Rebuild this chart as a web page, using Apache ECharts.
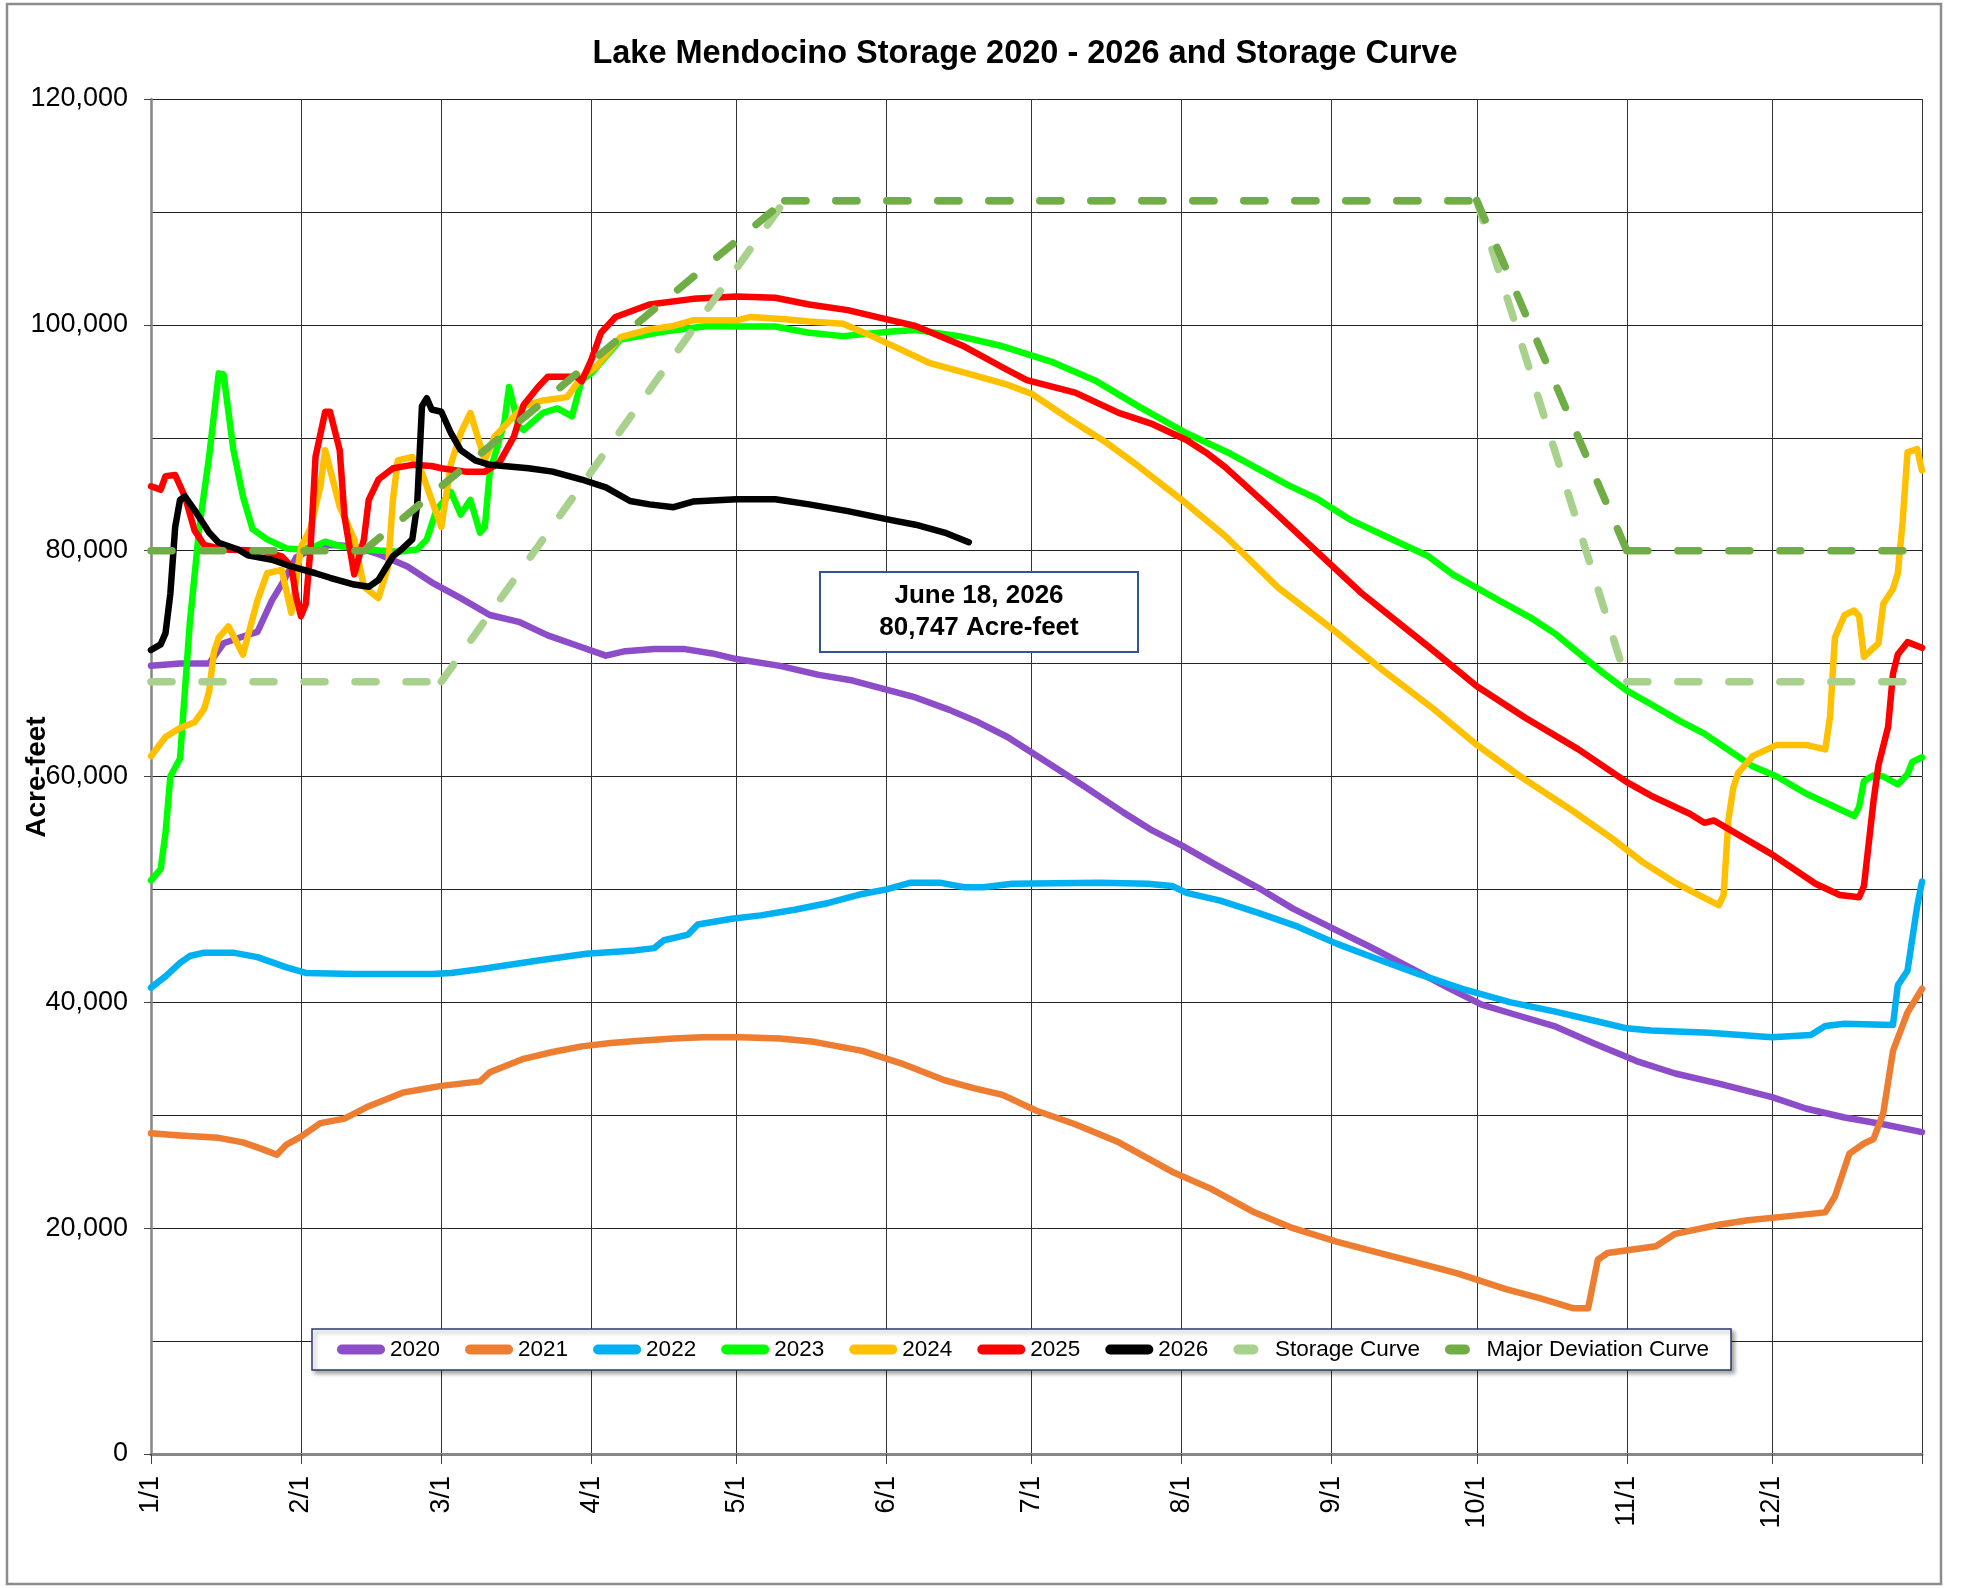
<!DOCTYPE html>
<html>
<head>
<meta charset="utf-8">
<title>Lake Mendocino Storage</title>
<script src="https://cdn.jsdelivr.net/npm/echarts@6/dist/echarts.min.js"></script>
<style>
  html, body { margin: 0; padding: 0; background: #fff; }
  #chart { width: 1961px; height: 1588px; }
</style>
</head>
<body>
<div id="chart"></div>
<script>
// x axis runs over a leap year, one category per day
const monthDays = [31, 29, 31, 30, 31, 30, 31, 31, 30, 31, 30, 31];
const monthLabels = ['1/1', '2/1', '3/1', '4/1', '5/1', '6/1', '7/1', '8/1', '9/1', '10/1', '11/1', '12/1'];
const yMax = 120000;
const yStep = 20000;

// [day of year, acre-feet]
const s2020 = [[0,69800],[6,70000],[12,70000],[15,71800],[19,72400],[22,72800],[25,75600],[27,77000],[30,79400],[33,80100],[37,80500],[42,80400],[47,79700],[53,78600],[58,77200],[64,75800],[70,74300],[76,73700],[82,72500],[88,71600],[94,70700],[98,71100],[104,71300],[110,71300],[116,70900],[121,70400],[130,69800],[138,69000],[145,68500],[151,67800],[158,67000],[165,65900],[171,64800],[177,63500],[185,61300],[193,59100],[201,56800],[207,55200],[213,53900],[220,52200],[229,50100],[236,48300],[244,46600],[252,44900],[261,42900],[268,41300],[275,39800],[282,38900],[290,37900],[298,36400],[307,34800],[315,33700],[324,32800],[335,31600],[342,30600],[350,29800],[358,29200],[366,28500]];

const s2021 = [[0,28400],[6,28200],[14,28000],[19,27600],[23,27000],[26,26500],[28,27400],[31,28100],[35,29300],[40,29700],[45,30800],[52,32000],[56,32300],[60,32600],[68,33000],[70,33800],[77,35000],[83,35600],[89,36100],[95,36400],[101,36600],[108,36800],[114,36900],[122,36900],[130,36800],[137,36500],[147,35700],[155,34600],[164,33100],[170,32400],[176,31800],[183,30400],[191,29200],[200,27600],[211,25000],[219,23500],[228,21400],[236,20000],[245,18800],[253,17900],[262,16900],[270,16000],[280,14600],[287,13800],[294,12900],[297,12900],[299,17200],[301,17800],[311,18400],[315,19500],[324,20300],[330,20700],[337,21000],[346,21400],[348,22800],[351,26600],[354,27500],[356,27900],[358,30200],[360,35700],[363,39100],[366,41200]];

const s2022 = [[0,41300],[3,42300],[6,43500],[8,44100],[11,44400],[17,44400],[22,44000],[28,43100],[32,42600],[42,42500],[58,42500],[62,42600],[69,43000],[80,43700],[90,44300],[100,44600],[104,44800],[106,45500],[111,46000],[113,46900],[120,47400],[126,47700],[133,48200],[140,48800],[147,49600],[152,50000],[157,50600],[163,50600],[168,50200],[172,50200],[178,50500],[196,50600],[206,50500],[211,50300],[214,49700],[221,49000],[229,47900],[237,46700],[245,45200],[253,43900],[262,42500],[271,41200],[281,40000],[290,39200],[299,38300],[305,37700],[310,37500],[322,37300],[335,36900],[343,37100],[346,37900],[350,38100],[360,38000],[361,41500],[363,42800],[365,48500],[366,50700]];

const s2023 = [[0,50800],[2,51800],[3,55000],[4,60000],[6,61600],[8,73500],[10,82100],[12,88300],[14,95700],[15,95600],[17,89000],[19,84800],[21,81900],[24,81000],[28,80200],[31,80100],[34,80400],[36,80800],[39,80400],[44,80100],[51,79900],[55,80100],[57,81000],[59,83600],[62,85200],[64,83200],[66,84500],[68,81600],[69,82100],[70,86900],[73,91300],[74,94500],[76,91000],[77,90700],[81,92200],[84,92600],[87,91900],[89,95100],[91,95700],[97,98700],[106,99400],[115,99900],[122,99850],[129,99850],[136,99300],[143,99000],[153,99400],[158,99550],[167,99000],[176,98100],[186,96750],[195,95100],[204,92800],[214,90400],[223,88600],[229,87200],[235,85800],[241,84600],[248,82700],[258,80700],[264,79500],[269,77900],[279,75500],[285,74100],[290,72700],[300,69200],[305,67600],[310,66400],[316,64900],[321,63800],[331,60900],[336,60000],[342,58500],[348,57300],[352,56500],[353,57300],[354,59600],[356,60100],[358,60000],[361,59300],[363,60200],[364,61300],[366,61700]];

const s2024 = [[0,61800],[3,63500],[6,64300],[9,64800],[11,66000],[12,67500],[13,71000],[14,72300],[16,73300],[19,70800],[22,75600],[24,78000],[27,78300],[29,74500],[31,80300],[33,82000],[35,85700],[36,88900],[39,83900],[42,81000],[44,76800],[47,75800],[49,78600],[50,84500],[51,88000],[54,88300],[56,86900],[58,84500],[60,82100],[62,87700],[64,90400],[66,92200],[69,88000],[71,90100],[77,92800],[81,93300],[86,93600],[89,95400],[92,96300],[97,98900],[103,99600],[108,99900],[112,100400],[121,100400],[124,100700],[131,100500],[136,100300],[143,100100],[149,99000],[155,97800],[161,96600],[167,95900],[177,94700],[182,93900],[190,91600],[197,89700],[204,87500],[213,84500],[222,81300],[233,76700],[244,73100],[254,69600],[265,66000],[274,62800],[283,60000],[294,56900],[302,54500],[308,52500],[315,50600],[319,49700],[324,48600],[325,49500],[326,56200],[327,59000],[328,60300],[331,61800],[336,62800],[342,62800],[346,62400],[347,65300],[348,72300],[350,74300],[352,74700],[353,74200],[354,70600],[357,71800],[358,75300],[360,76600],[361,78000],[362,82600],[363,88700],[365,89000],[366,87100]];

const s2025 = [[0,85700],[2,85400],[3,86600],[5,86700],[7,84800],[9,81800],[11,80500],[15,80100],[23,80000],[27,79500],[29,78600],[30,75900],[31,74200],[32,75300],[33,80400],[34,88300],[36,92300],[37,92300],[39,88900],[40,83000],[41,80400],[42,77900],[44,81000],[45,84500],[47,86300],[50,87300],[54,87600],[58,87500],[60,87300],[65,87000],[69,87000],[72,87800],[75,90100],[77,92900],[80,94500],[82,95400],[88,95400],[89,95000],[91,96900],[93,99300],[96,100700],[103,101800],[112,102300],[121,102500],[129,102400],[136,101800],[144,101300],[151,100600],[158,99900],[168,98100],[177,96000],[181,95100],[191,94000],[200,92200],[207,91200],[214,89800],[218,88700],[222,87400],[232,83500],[243,79100],[250,76300],[264,71500],[274,68000],[284,65200],[295,62400],[305,59500],[310,58300],[318,56700],[321,55900],[323,56100],[335,53100],[344,50500],[349,49500],[353,49300],[354,50300],[356,57900],[357,61000],[359,64400],[360,69100],[361,70800],[363,71900],[366,71400]];

const s2026 = [[0,71200],[2,71700],[3,72700],[4,76200],[5,82100],[6,84500],[7,84800],[9,83600],[12,81600],[14,80700],[18,80100],[20,79600],[25,79200],[29,78600],[34,78000],[37,77600],[42,77000],[45,76800],[47,77400],[50,79500],[52,80200],[54,81000],[55,84000],[56,92800],[57,93500],[58,92500],[60,92300],[62,90400],[64,88900],[67,88000],[70,87600],[78,87300],[83,87000],[89,86300],[94,85600],[99,84400],[103,84100],[108,83850],[112,84350],[121,84550],[129,84550],[136,84100],[144,83500],[153,82700],[158,82300],[164,81600],[169,80747]];

const storageCurve = [[0,68400],[60,68400],[131,111000],[274,111000],[305,68400],[366,68400]];
const majorDeviation = [[0,80000],[44,80000],[131,111000],[274,111000],[305,80000],[366,80000]];

const yearNames = ['2020', '2021', '2022', '2023', '2024', '2025', '2026'];
const yearColors = ['#8E4DC8', '#ED7D31', '#00B0F0', '#00FF00', '#FFC000', '#FF0000', '#000000'];
const yearData = [s2020, s2021, s2022, s2023, s2024, s2025, s2026];

// categories: one per day, plus a blank one closing the year at the right edge
const categories = [];
const monthStart = new Set();
const labelAt = {};
let dayCount = 0;
monthDays.forEach((n, m) => {
    monthStart.add(dayCount);
    labelAt[dayCount] = monthLabels[m];
    for (let d = 1; d <= n; d++) categories.push((m + 1) + '/' + d);
    dayCount += n;
});
monthStart.add(dayCount);
categories.push('');

const font = '"Liberation Sans", Arial, sans-serif';
const longPill = 'path://M5,0H43A5,5 0 0 1 43,10H5A5,5 0 0 1 5,0Z';
const shortPill = 'path://M5,0H20A5,5 0 0 1 20,10H5A5,5 0 0 1 5,0Z';

let series = yearNames.map((name, i) => ({
    name: name,
    type: 'line',
    data: yearData[i],
    symbol: 'none',
    lineStyle: { color: yearColors[i], width: 6.5, cap: 'round', join: 'round' },
    itemStyle: { color: yearColors[i] },
    emphasis: { disabled: true }
}));

// the dash pattern restarts at every corner of the curves, so each leg is its own series
function curveLegs(name, color, pts) {
    let legs = [];
    for (let i = 0; i < pts.length - 1; i++) {
        legs.push({
            name: name,
            type: 'line',
            data: [pts[i], pts[i + 1]],
            symbol: 'none',
            lineStyle: { color: color, width: 7.5, type: [21, 30], cap: 'round' },
            itemStyle: { color: color },
            emphasis: { disabled: true }
        });
    }
    return legs;
}
series = series.concat(curveLegs('Storage Curve', '#A9D18E', storageCurve));
series = series.concat(curveLegs('Major Deviation Curve', '#70AD47', majorDeviation));

let option = {
    animation: false,
    backgroundColor: '#ffffff',
    textStyle: { fontFamily: font },
    grid: { left: 151, right: 39, top: 99, bottom: 134, outerBoundsMode: 'none' },
    legend: {
        left: 312,
        top: 1329,
        padding: [9, 22, 9, 25],
        itemWidth: 48,
        itemHeight: 10,
        itemGap: 25,
        backgroundColor: '#ffffff',
        borderColor: '#2B3A67',
        borderWidth: 1.5,
        shadowColor: 'rgba(0,0,0,0.35)',
        shadowBlur: 4,
        shadowOffsetX: 3,
        shadowOffsetY: 3,
        selectedMode: false,
        itemStyle: { borderWidth: 0 },
        textStyle: { fontSize: 22.5, color: '#000', fontFamily: font },
        data: yearNames.map(n => ({ name: n, icon: longPill }))
            .concat([{ name: 'Storage Curve', icon: shortPill }, { name: 'Major Deviation Curve', icon: shortPill }])
    },
    xAxis: {
        type: 'category',
        data: categories,
        boundaryGap: false,
        axisLine: { lineStyle: { color: '#868686', width: 3 } },
        axisTick: {
            show: true, inside: false, length: 10,
            interval: (i) => monthStart.has(i),
            lineStyle: { color: '#444', width: 1 }
        },
        axisLabel: {
            rotate: 90,
            margin: 22,
            fontSize: 27,
            color: '#000',
            fontFamily: font,
            interval: (i) => monthStart.has(i) && i < dayCount,
            formatter: (v, i) => labelAt[i] || ''
        },
        splitLine: {
            show: true,
            interval: (i) => monthStart.has(i),
            lineStyle: { color: '#333', width: 1 }
        }
    },
    yAxis: {
        type: 'value',
        min: 0,
        max: yMax,
        interval: yStep,
        axisLine: { show: true, lineStyle: { color: '#868686', width: 2.5 } },
        axisTick: { show: true, length: 7, lineStyle: { color: '#444', width: 1 } },
        axisLabel: {
            margin: 23,
            fontSize: 27,
            color: '#000',
            fontFamily: font,
            formatter: (v) => v.toLocaleString('en-US')
        },
        splitLine: { show: true, lineStyle: { color: '#222', width: 1 } },
        minorTick: { show: false, splitNumber: 2 },
        minorSplitLine: { show: true, lineStyle: { color: '#222', width: 1 } }
    },
    graphic: [
        {
            type: 'rect',
            shape: { x: 7, y: 4, width: 1934, height: 1580 },
            style: { fill: 'none', stroke: '#8c8c8c', lineWidth: 2.5 },
            silent: true
        },
        {
            type: 'text',
            x: 1025, y: 54,
            style: {
                text: 'Lake Mendocino Storage 2020 - 2026 and Storage Curve',
                font: 'bold 32.5px ' + font,
                fill: '#000',
                textAlign: 'center',
                textVerticalAlign: 'middle'
            }
        },
        {
            // y axis title
            type: 'text',
            x: 37, y: 777,
            rotation: Math.PI / 2,
            style: {
                text: 'Acre-feet',
                font: 'bold 28px ' + font,
                fill: '#000',
                textAlign: 'center',
                textVerticalAlign: 'middle'
            }
        },
        {
            type: 'rect',
            z: 100,
            shape: { x: 820, y: 572, width: 318, height: 80 },
            style: { fill: '#fff', stroke: '#2F5597', lineWidth: 2 }
        },
        {
            type: 'text',
            z: 101,
            x: 979, y: 612,
            style: {
                text: 'June 18, 2026\n80,747 Acre-feet',
                font: 'bold 26px ' + font,
                lineHeight: 32,
                fill: '#000',
                textAlign: 'center',
                textVerticalAlign: 'middle'
            }
        }
    ],
    series: series
};

let chart = echarts.init(document.getElementById('chart'));
chart.setOption(option);
</script>
</body>
</html>
